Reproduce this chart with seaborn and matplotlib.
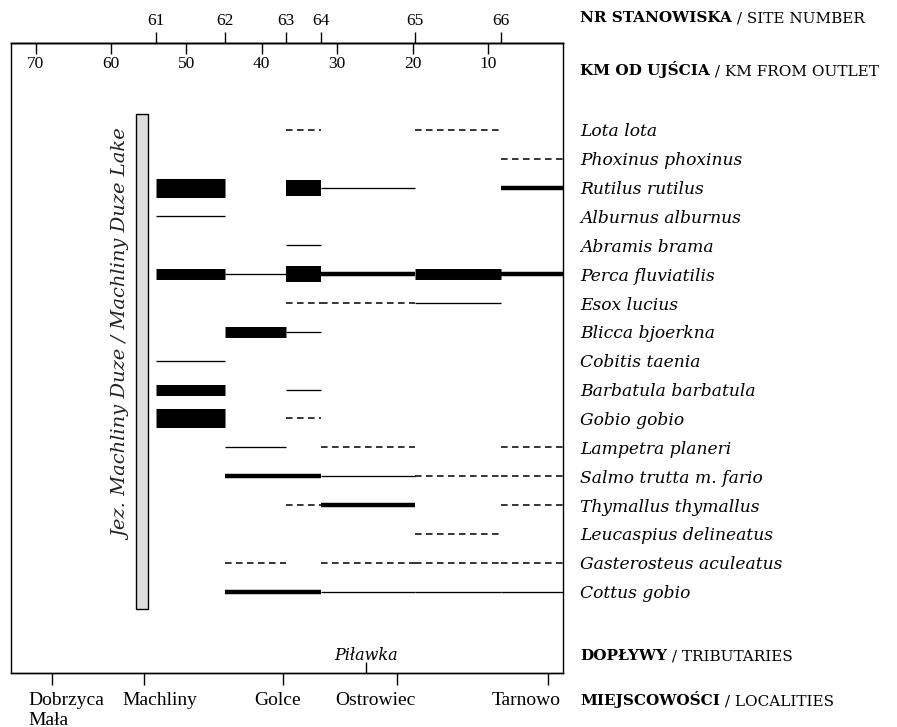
import matplotlib
matplotlib.use("Agg")
import matplotlib.pyplot as plt
import matplotlib.transforms as mtransforms
import pandas as pd
import seaborn as sns

# river km (from outlet) of the sampling sites and reference points
km_ticks = [70, 60, 50, 40, 30, 20, 10]
site_numbers = [61, 62, 63, 64, 65, 66]
site_km = [54.0, 44.9, 36.8, 32.2, 19.7, 8.3]
outlet_km = 0.0

localities = ["Dobrzyca\nMała", "Machliny", "Golce", "Ostrowiec", "Tarnowo"]
locality_km = [67.8, 55.6, 37.2, 22.1, 2.0]
tributaries = ["Piławka"]
tributary_km = [26.2]

lake_label = "Jez. Machliny Duze / Machliny Duze Lake"
lake_km = [56.7, 55.1]
lake_rows = [0.45, 17.6]

species = ["Lota lota", "Phoxinus phoxinus", "Rutilus rutilus", "Alburnus alburnus",
           "Abramis brama", "Perca fluviatilis", "Esox lucius", "Blicca bjoerkna",
           "Cobitis taenia", "Barbatula barbatula", "Gobio gobio", "Lampetra planeri",
           "Salmo trutta m. fario", "Thymallus thymallus", "Leucaspius delineatus",
           "Gasterosteus aculeatus", "Cottus gobio"]

# (from site, to site, abundance class); "out" = outlet
# 5, 4, 3 = blocks (largest -> smaller), 2 = thick line, 1 = thin line, 0 = dashed
segments = {
    "Lota lota": [(63, 64, 0), (65, 66, 0)],
    "Phoxinus phoxinus": [(66, "out", 0)],
    "Rutilus rutilus": [(61, 62, 5), (63, 64, 4), (64, 65, 1), (66, "out", 2)],
    "Alburnus alburnus": [(61, 62, 1)],
    "Abramis brama": [(63, 64, 1)],
    "Perca fluviatilis": [(61, 62, 3), (62, 63, 1), (63, 64, 4), (64, 65, 2), (65, 66, 3), (66, "out", 2)],
    "Esox lucius": [(63, 64, 0), (64, 65, 0), (65, 66, 1)],
    "Blicca bjoerkna": [(62, 63, 3), (63, 64, 1)],
    "Cobitis taenia": [(61, 62, 1)],
    "Barbatula barbatula": [(61, 62, 3), (63, 64, 1)],
    "Gobio gobio": [(61, 62, 5), (63, 64, 0)],
    "Lampetra planeri": [(62, 63, 1), (64, 65, 0), (66, "out", 0)],
    "Salmo trutta m. fario": [(62, 63, 2), (63, 64, 2), (64, 65, 1), (65, 66, 0), (66, "out", 0)],
    "Thymallus thymallus": [(63, 64, 0), (64, 65, 2), (66, "out", 0)],
    "Leucaspius delineatus": [(65, 66, 0)],
    "Gasterosteus aculeatus": [(62, 63, 0), (64, 65, 0), (65, 66, 0), (66, "out", 0)],
    "Cottus gobio": [(62, 63, 2), (63, 64, 2), (64, 65, 1), (65, 66, 1), (66, "out", 1)],
}

line_widths = {5: 13.7, 4: 11.5, 3: 7.9, 2: 3.2, 1: 0.95, 0: 1.1}
line_dashes = {5: "", 4: "", 3: "", 2: "", 1: "", 0: (4.3, 2.9)}

# long table: two points per segment
site_pos = dict(zip(site_numbers, site_km))
site_pos["out"] = outlet_km
rows = []
seg_id = 0
for i, sp in enumerate(species):
    for a, b, cls in segments[sp]:
        for s in (a, b):
            rows.append({"seg": seg_id, "species": sp, "row": i + 1, "km": site_pos[s], "cls": cls})
        seg_id += 1
df = pd.DataFrame(rows)

sns.set_theme(style="ticks")
plt.rcParams["font.family"] = ["Liberation Serif", "DejaVu Serif"]
plt.rcParams["lines.solid_capstyle"] = "butt"
plt.rcParams["lines.dash_capstyle"] = "butt"
plt.rcParams["axes.edgecolor"] = "black"
plt.rcParams["axes.linewidth"] = 1.0
plt.rcParams["text.color"] = "black"
plt.rcParams["xtick.color"] = "black"
plt.rcParams["ytick.color"] = "black"
plt.rcParams["xtick.labelcolor"] = "black"
plt.rcParams["ytick.labelcolor"] = "black"

fig = plt.figure(figsize=(8.97, 7.27), dpi=100)
ax = fig.add_axes([10.7 / 897, 1 - 673.3 / 727, (563.3 - 10.7) / 897, (673.3 - 43) / 727])

# lake bar
ax.bar((lake_km[0] + lake_km[1]) / 2, lake_rows[1] - lake_rows[0], width=abs(lake_km[0] - lake_km[1]),
       bottom=lake_rows[0], color="#dedede", edgecolor="black", linewidth=1.0, zorder=1)
ax.text(58.4, 8.1, lake_label, rotation=90, ha="center", va="center", fontsize=14,
        fontstyle="italic", fontfamily="DejaVu Serif", color="#222222")

sns.lineplot(data=df, x="km", y="row", units="seg", estimator=None, size="cls", sizes=line_widths,
             style="cls", dashes=line_dashes, color="black", legend=False, sort=False, ax=ax, zorder=2)

ax.set_xlim(73.3, 0)
ax.set_ylim(19.83, -2.01)
ax.set_xlabel("")
ax.set_ylabel("")

# species names on the right
ax.yaxis.tick_right()
ax.set_yticks(range(1, len(species) + 1), labels=species)
ax.tick_params(axis="y", length=0, pad=12, labelsize=12.3)
for lbl in ax.get_yticklabels():
    lbl.set_fontfamily("DejaVu Serif")
    lbl.set_fontstyle("italic")

# localities (bottom)
ax.set_xticks(locality_km, labels=localities)
ax.tick_params(axis="x", bottom=True, direction="out", length=8.5, width=1, pad=5, labelsize=14)

# site numbers (top, outside)
sec_site = ax.secondary_xaxis("top")
sec_site.set_xticks(site_km, labels=[str(s) for s in site_numbers])
sec_site.tick_params(direction="out", length=8, width=1, pad=2, labelsize=12.5)

# km from outlet (top, inside)
sec_km = ax.secondary_xaxis("top")
sec_km.set_xticks(km_ticks, labels=[str(k) for k in km_ticks])
sec_km.tick_params(direction="in", length=8, width=1, pad=-21, labelsize=12.5)

# tributaries (bottom, inside)
sec_trib = ax.secondary_xaxis("bottom")
sec_trib.set_xticks(tributary_km, labels=tributaries)
sec_trib.tick_params(direction="in", length=8, width=1, pad=-19, labelsize=11.5)
for lbl in sec_trib.get_xticklabels():
    lbl.set_fontfamily("DejaVu Serif")
    lbl.set_fontstyle("italic")

# row titles on the right
def header(y_px, bold, normal):
    t = fig.text(580 / 897, 1 - y_px / 727, bold, fontfamily="DejaVu Serif", fontweight="bold",
                 fontsize=11, va="center")
    ax.annotate(normal, xy=(1, 0), xycoords=t, va="bottom", fontsize=11,
                fontfamily="DejaVu Serif", annotation_clip=False)

header(18, "NR STANOWISKA", " / SITE NUMBER")
header(70, "KM OD UJŚCIA", " / KM FROM OUTLET")
header(656, "DOPŁYWY", " / TRIBUTARIES")
header(700, "MIEJSCOWOŚCI", " / LOCALITIES")

# nudge locality names like the original layout
nudges = [14, 16, -5, -21, -22]
for lbl, dx in zip(ax.get_xticklabels(), nudges):
    lbl.set_multialignment("left")
    lbl.set_transform(lbl.get_transform() + mtransforms.ScaledTranslation(dx / 100, 0, fig.dpi_scale_trans))

fig.savefig("out.png", dpi=100)
